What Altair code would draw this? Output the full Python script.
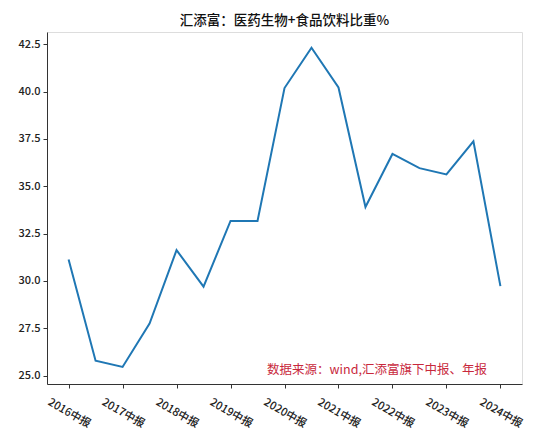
import altair as alt
import pandas as pd

periods = [2016, 2016.5, 2017, 2017.5, 2018, 2018.5, 2019, 2019.5, 2020, 2020.5,
           2021, 2021.5, 2022, 2022.5, 2023, 2023.5, 2024]
period_names = ["2016中报", "2016年报", "2017中报", "2017年报", "2018中报", "2018年报",
                "2019中报", "2019年报", "2020中报", "2020年报", "2021中报", "2021年报",
                "2022中报", "2022年报", "2023中报", "2023年报", "2024中报"]
values = [31.14, 25.79, 25.46, 27.75, 31.63, 29.70, 33.17, 33.17, 40.19, 42.32,
          40.22, 33.91, 36.71, 35.96, 35.63, 37.38, 29.73]

tick_years = [2016, 2017, 2018, 2019, 2020, 2021, 2022, 2023, 2024]
y_ticks = [25.0, 27.5, 30.0, 32.5, 35.0, 37.5, 40.0, 42.5]

title_text = "汇添富：医药生物+食品饮料比重%"
source_text = "数据来源：wind,汇添富旗下中报、年报"

df = pd.DataFrame({"period": periods, "name": period_names, "value": values})

FONT = "Noto Sans CJK SC"

x_scale = alt.Scale(domain=[2015.6, 2024.4], nice=False, zero=False)
y_scale = alt.Scale(domain=[24.56, 43.15], nice=False, zero=False)

line = alt.Chart(df).mark_line(color="#1f77b4", strokeWidth=2).encode(
    x=alt.X("period:Q", scale=x_scale,
            axis=alt.Axis(values=tick_years, labelExpr="datum.value + '中报'",
                          title=None, grid=False, labelAngle=30, labelAlign="center",
                          labelBaseline="middle", labelPadding=25, tickSize=4,
                          labelFontSize=11, labelFont=FONT, labelColor="#222",
                          labelFontWeight=500,
                          domainColor="#333", tickColor="#333", labelBound=False,
                          labelOverlap=False)),
    y=alt.Y("value:Q", scale=y_scale,
            axis=alt.Axis(values=y_ticks, format=".1f", title=None, grid=False,
                          tickSize=4, labelFontSize=11, labelFont=FONT,
                          labelFontWeight=500,
                          labelColor="#222", domainColor="#333", tickColor="#333",
                          labelPadding=3)),
)

src = alt.Chart(pd.DataFrame({"t": [source_text]})).mark_text(
    align="right", baseline="alphabetic", color="#c8283c", fontSize=12.5, font=FONT
).encode(
    x=alt.datum(2023.75, scale=x_scale),
    y=alt.datum(25.1, scale=y_scale),
    text="t:N",
)

chart = alt.layer(line, src).properties(
    width=475, height=352,
    padding={"left": 39, "top": 24, "right": 20, "bottom": 50},
    autosize=alt.AutoSizeParams(type="none"),
    title=alt.TitleParams(title_text, font=FONT, fontSize=13.5, fontWeight=500,
                          color="#111", offset=5),
).configure_view(stroke="#333", strokeWidth=1.2).configure(background="white")

chart.save("out.html", embed_options={"renderer": "svg", "actions": False})
